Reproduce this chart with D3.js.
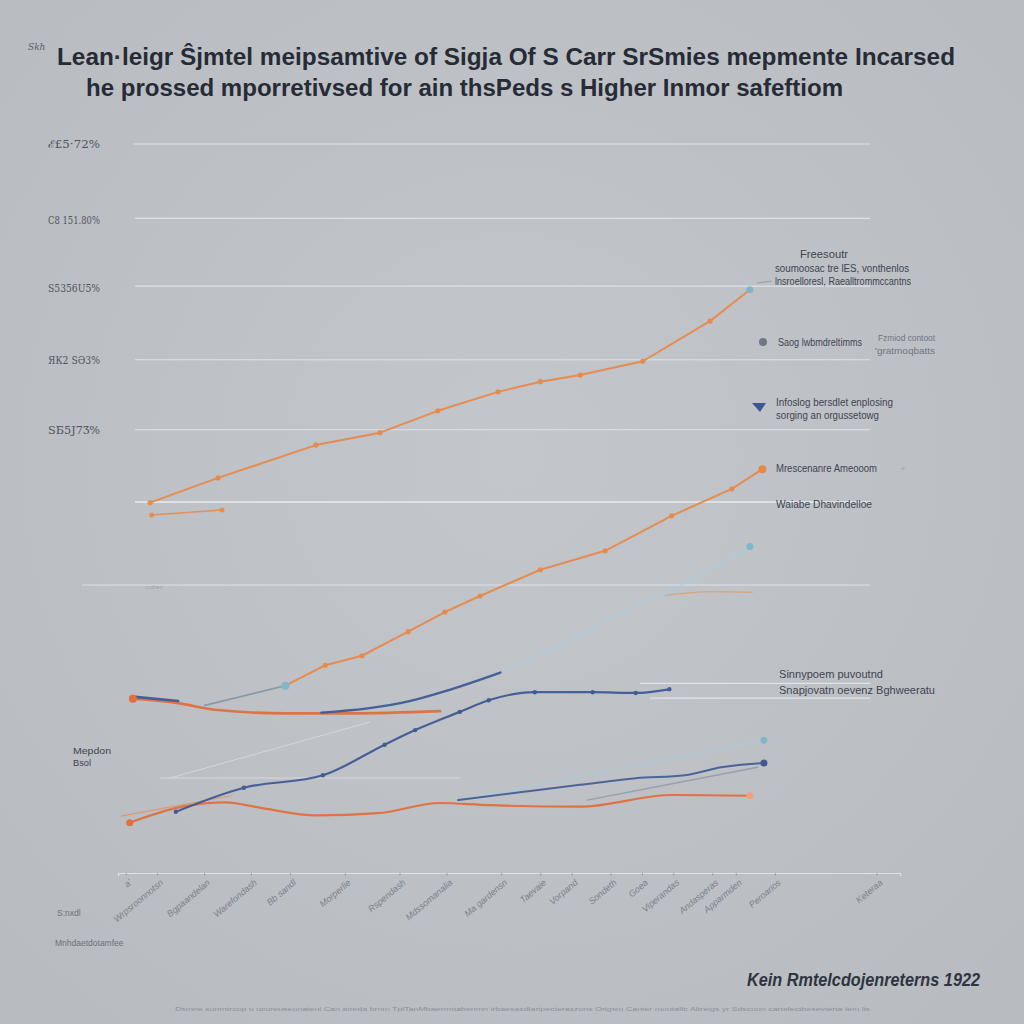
<!DOCTYPE html>
<html><head><meta charset="utf-8">
<script src="https://cdn.jsdelivr.net/npm/d3@7"></script>
<style>html,body{margin:0;padding:0;background:#bec1c6;}svg{display:block;}</style>
</head><body>
<script>
// ---- data ----
const titleLines = ["Lean·leigr Ŝjmtel meipsamtive of Sigja Of S Carr SrSmies mepmente Incarsed",
                    "he prossed mporretivsed for ain thsPeds s Higher Inmor safeftiom"];
const yTicks = [100, 89.6, 80.3, 70.4, 60.8];
const yTickLabels = ["ℰ£5·72%", "C8 151.80%", "S5356U5%", "ЯК2 ЅӘ3%", "ЅБ5Ј7Ӡ%"];
const gridValues = [100, 89.8, 80.5, 70.4, 60.8, 50.9, 39.5];
const xTickValues = [1, 5, 11, 17, 22, 29, 36, 42, 49, 54, 58, 63, 67, 71, 76, 79, 84, 97];
const xTickLabels = ["aʹ", "Wrpsroonnotsn", "Bgpaandelan", "Warefondash", "Bb sandl", "Morperlie", "Rspendash", "Mdssomanalia", "Ma gardensn", "Taevaie", "Vorpand", "Sondeth", "Goea", "Viperandas", "Andasperas", "Apparmden", "Peroarios", "Keteraa"];

const orangeTopX = [4.1, 12.8, 25.3, 33.5, 40.9, 48.6, 54.0, 59.1, 67.1, 75.7, 80.8];
const orangeTopY = [50.8, 54.2, 58.7, 60.4, 63.4, 66.0, 67.4, 68.3, 70.2, 75.7, 80.0];
const orangeShortX = [4.3, 13.3];
const orangeShortY = [49.1, 49.8];
const orangeMidX = [21.4, 26.5, 31.2, 37.1, 41.8, 46.3, 54.0, 62.3, 70.8, 78.5, 82.4];
const orangeMidY = [25.7, 28.5, 29.8, 33.1, 35.8, 38.0, 41.6, 44.2, 49.0, 52.7, 55.4];
const greyLeadX = [11.1, 21.4];
const greyLeadY = [23.0, 25.7];
const orangeLowX = [1.9, 7.7, 12.4, 21.4, 29.7, 41.2];
const orangeLowY = [23.9, 23.3, 22.4, 21.9, 21.9, 22.2];
const blueStartX = [1.9, 7.7];
const blueStartY = [24.2, 23.6];
const blueUpX = [26.0, 37.4, 42.0, 48.9];
const blueUpY = [22.0, 23.6, 25.0, 27.5];
const tealUpX = [48.9, 57.0, 65.0, 72.0, 80.8];
const tealUpY = [27.5, 31.5, 36.0, 39.5, 44.8];
const orangeFaintX = [70.0, 76.0, 81.1];
const orangeFaintY = [38.1, 38.6, 38.5];
const blueLowX = [7.4, 16.1, 26.2, 34.1, 38.0, 43.7, 47.4, 53.3, 60.7, 66.2, 70.5];
const blueLowY = [8.4, 11.7, 13.4, 17.6, 19.6, 22.1, 23.7, 24.8, 24.8, 24.7, 25.2];
const orangeBotX = [1.5, 8.2, 13.7, 18.4, 25.4, 33.2, 41.2, 47.4, 59.1, 70.8, 80.8];
const orangeBotY = [6.9, 9.1, 9.7, 8.9, 7.9, 8.2, 9.6, 9.3, 9.1, 10.7, 10.6];
const blueBotX = [43.5, 59.1, 66.2, 72.5, 77.1, 82.6];
const blueBotY = [10.0, 12.1, 13.0, 13.4, 14.5, 15.1];
const greyBotX = [60.0, 81.8];
const greyBotY = [10.0, 14.5];
const tealBotX = [43.5, 82.6];
const tealBotY = [10.0, 18.2];
const orangeStraightX = [0.4, 14.5];
const orangeStraightY = [7.8, 10.6];

// text, x, y, size, fitted width
const legendTexts = [
  ["Freesoutr", 800, 258, 10.5, 48],
  ["soumoosac tre lES, vonthenlos", 775, 272, 10, 134],
  ["lnsroelloresl, Raealltrommccantns", 775, 285, 10, 136],
  ["Saog lwbmdreltimms", 778, 346, 10.5, 84],
  ["Fzmiod contoot", 878, 341, 9.5, 57],
  ["'gratmoqbatts", 875, 354, 9.5, 60],
  ["Infoslog bersdlet enplosing", 776, 406, 10.5, 117],
  ["sorging an orgussetowg", 776, 419, 10.5, 103],
  ["Mrescenanre Ameooom", 776, 472, 10.5, 101],
  ["Waiabe Dhavindelloe", 776, 508, 10.5, 96],
  ["Sinnypoem puvoutnd", 779, 678, 10.5, 104],
  ["Snapjovatn oevenz Bghweeratu", 779, 694, 10.5, 156],
  ["Mepdon", 73, 754, 9.5, 38],
  ["Bsol", 73, 766, 9.5, 18],
  ["S:nxdl", 57, 916, 8.5, 0],
  ["Mnhdaetdotamfee", 55, 946, 8.5, 0]
];

// ---- drawing ----
const W = 1024, H = 1024;
const svg = d3.select("body").append("svg").attr("width", W).attr("height", H);
const defs = svg.append("defs");
const grad = defs.append("radialGradient").attr("id","bg").attr("cx","50%").attr("cy","45%").attr("r","70%");
grad.append("stop").attr("offset","0%").attr("stop-color","#c3c6cb");
grad.append("stop").attr("offset","100%").attr("stop-color","#b8bcc1");
svg.append("rect").attr("width",W).attr("height",H).attr("fill","url(#bg)");

const x = d3.scaleLinear().domain([0,100]).range([118,900]);
const y = d3.scaleLinear().domain([0,100]).range([873,144]);

// title
svg.append("text").attr("x",28).attr("y",50).text("Skh").attr("font-family","DejaVu Serif").attr("font-style","italic").attr("font-size",9).attr("fill","#555b66");
titleLines.forEach((t,i)=>{
  const tx = i===0?57:86, tl = i===0?898:757;
  svg.append("text").attr("x",tx).attr("y",i===0?65:96).text(t)
    .attr("font-family","Liberation Sans, Arial, sans-serif").attr("font-weight","bold")
    .attr("font-size",23).attr("fill","#262b36").attr("textLength",tl).attr("lengthAdjust","spacingAndGlyphs");
});

// gridlines
const gridX0 = [133,135,135,135,135,135,82];
gridValues.forEach((v,i)=>{
  svg.append("line").attr("x1",gridX0[i]).attr("x2",870).attr("y1",y(v)).attr("y2",y(v))
    .attr("stroke", i===5?"#eef0f3":"#e2e5e9").attr("stroke-width", i===5?1.6:1.1).attr("opacity",0.9);
});
svg.append("text").attr("x",145).attr("y",592).text("ᶜᵘᵇᵉⁿ").attr("font-size",9).attr("fill","#9ea3ab").attr("font-family","DejaVu Sans");
[[640,870,26.0],[650,870,24.0]].forEach(d=>{
  svg.append("line").attr("x1",d[0]).attr("x2",d[1]).attr("y1",y(d[2])).attr("y2",y(d[2])).attr("stroke","#e0e3e7").attr("stroke-width",1.2);
});
svg.append("line").attr("x1",160).attr("x2",460).attr("y1",778).attr("y2",778).attr("stroke","#d6d9de").attr("stroke-width",1);
svg.append("line").attr("x1",170).attr("x2",370).attr("y1",778).attr("y2",722).attr("stroke","#d3d7dc").attr("stroke-width",1);

// y tick labels
yTicks.forEach((v,i)=>{
  svg.append("text").attr("x",100).attr("y",y(v)+4).attr("text-anchor","end").text(yTickLabels[i])
    .attr("font-family","DejaVu Serif").attr("font-size",10.5).attr("fill","#50555f").attr("textLength",52).attr("lengthAdjust","spacingAndGlyphs");
});

// x axis
const xAxis = d3.axisBottom(x).tickValues(xTickValues).tickSize(3).tickFormat((d,i)=>xTickLabels[i]);
const gx = svg.append("g").attr("transform",`translate(0,${y(0)})`).call(xAxis);
gx.select(".domain").attr("stroke","#dfe2e6").attr("stroke-width",1.2);
gx.selectAll(".tick line").attr("stroke","#9da2aa");
gx.selectAll(".tick text").attr("fill","#7b808a").attr("font-size",9).attr("font-style","italic").attr("font-family","Liberation Sans Narrow, Liberation Sans, sans-serif")
  .attr("text-anchor","end").attr("transform","rotate(-40)").attr("dx","-2").attr("dy","6");

// lines
const line = d3.line().x(d=>x(d[0])).y(d=>y(d[1])).curve(d3.curveMonotoneX);
const lineLin = d3.line().x(d=>x(d[0])).y(d=>y(d[1]));
const zip = (a,b)=>a.map((v,i)=>[v,b[i]]);
function draw(xs,ys,color,w,op,curve,markers){
  const pts = zip(xs,ys);
  svg.append("path").datum(pts).attr("d",(curve?line:lineLin)).attr("fill","none")
    .attr("stroke",color).attr("stroke-width",w).attr("opacity",op).attr("stroke-linejoin","round").attr("stroke-linecap","round");
  if(markers){
    svg.selectAll(null).data(pts).enter().append("circle").attr("cx",d=>x(d[0])).attr("cy",d=>y(d[1]))
      .attr("r",markers).attr("fill",color).attr("opacity",op);
  }
}
const ORANGE="#e8894a", ORANGE2="#e26f3c", BLUE="#3f5a93", TEAL="#7fb7c8", GREY="#8594a6";

draw(tealBotX,tealBotY,"#a9cdd7",1.2,0.8,false,0);
draw(greyBotX,greyBotY,"#8c96a3",1.4,0.8,false,0);
draw(orangeStraightX,orangeStraightY,ORANGE,1.2,0.7,false,0);
draw(orangeBotX,orangeBotY,ORANGE2,2.2,0.95,true,0);
draw(blueBotX,blueBotY,BLUE,2,0.9,true,0);
draw(blueLowX,blueLowY,BLUE,2.2,0.95,true,2.2);
draw(orangeFaintX,orangeFaintY,"#e39a6c",1.2,0.8,true,0);
draw(tealUpX,tealUpY,"#a6cfdb",1.4,0.85,true,0);
draw(greyLeadX,greyLeadY,GREY,1.8,0.9,false,0);
draw(orangeLowX,orangeLowY,ORANGE2,2.6,0.95,true,0);
draw(blueStartX,blueStartY,BLUE,2.6,0.95,false,0);
draw(blueUpX,blueUpY,BLUE,2.4,0.95,true,0);
draw(orangeMidX,orangeMidY,ORANGE,2,0.95,false,2.6);
draw(orangeShortX,orangeShortY,ORANGE,1.5,0.9,false,2.5);
draw(orangeTopX,orangeTopY,ORANGE,2,0.95,false,2.6);

const markerPts = [
  [orangeLowX[0],orangeLowY[0],ORANGE2,4],
  [orangeMidX[0],orangeMidY[0],TEAL,4],
  [orangeTopX[orangeTopX.length-1],orangeTopY[orangeTopY.length-1],TEAL,3.5],
  [orangeMidX[orangeMidX.length-1],orangeMidY[orangeMidY.length-1],ORANGE,4],
  [tealUpX[tealUpX.length-1],tealUpY[tealUpY.length-1],TEAL,3.5],
  [tealBotX[1],tealBotY[1],TEAL,3.5],
  [blueBotX[blueBotX.length-1],blueBotY[blueBotY.length-1],BLUE,3.5],
  [orangeBotX[0],orangeBotY[0],ORANGE2,3.5],
  [orangeBotX[orangeBotX.length-1],orangeBotY[orangeBotY.length-1],"#eda27a",3.5]
];
svg.selectAll(null).data(markerPts).enter().append("circle")
  .attr("cx",d=>x(d[0])).attr("cy",d=>y(d[1])).attr("r",d=>d[3]).attr("fill",d=>d[2]);

// legend markers
svg.append("circle").attr("cx",763).attr("cy",342).attr("r",4).attr("fill","#6c7787");
svg.append("path").attr("d","M752,403 L766,403 L760,412 Z").attr("fill","#3d5796");
svg.append("line").attr("x1",757).attr("x2",772).attr("y1",283).attr("y2",281).attr("stroke","#9aa3ae").attr("stroke-width",1.2);
svg.append("text").attr("x",900).attr("y",472).text("+").attr("font-size",10).attr("fill","#9aa0a8");

legendTexts.forEach(d=>{
  const t = svg.append("text").attr("x",d[1]).attr("y",d[2]).text(d[0]).attr("font-size",d[3])
    .attr("font-family","Liberation Sans Narrow, Liberation Sans, sans-serif")
    .attr("fill", (d[0].startsWith("Fzm")||d[0].startsWith("'grat")) ? "#6f7580" : (d[4]===0 ? "#6a707a" : "#3e4450"));
  if(d[4]) t.attr("textLength",d[4]).attr("lengthAdjust","spacingAndGlyphs");
});

// footer
svg.append("text").attr("x",980).attr("y",986).attr("text-anchor","end").text("Kein Rmtelcdojenreterns 1922")
  .attr("font-family","Liberation Sans, sans-serif").attr("font-weight","bold").attr("font-style","italic")
  .attr("font-size",18).attr("fill","#2e3440").attr("textLength",233).attr("lengthAdjust","spacingAndGlyphs");
svg.append("text").attr("x",175).attr("y",1011).text("Dsmne sunmtrcop u ucureuseonatenl Can atreda brnm TplTanMbaerrmtabenmn irbaesasdlaripecteraszons Origsm Canter moutalfc Altreigs yr Sdscoun cartsfectbesevterta lem lis")
  .attr("font-family","Liberation Sans, sans-serif").attr("font-size",6).attr("fill","#8a909a").attr("textLength",695).attr("lengthAdjust","spacingAndGlyphs");
</script>
</body></html>
